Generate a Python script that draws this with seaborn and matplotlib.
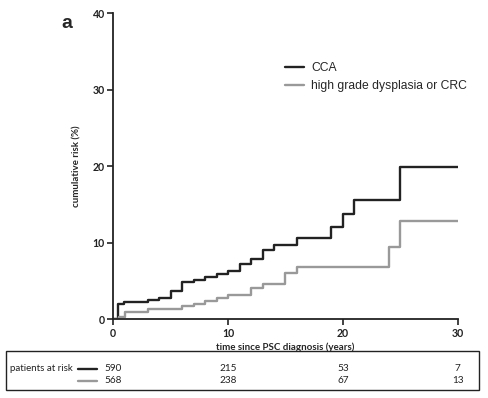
import matplotlib
matplotlib.use("Agg")
import matplotlib.pyplot as plt
import matplotlib.transforms as mtransforms
from matplotlib.patches import Rectangle
from matplotlib.lines import Line2D
import pandas as pd
import seaborn as sns

# cumulative risk curves (step functions)
cca_time = [0, 0.44, 0.9, 3.0, 4.0, 5.0, 6.0, 7.0, 8.0, 9.0, 10.0, 11.0, 12.0,
            13.0, 14.0, 16.0, 19.0, 20.0, 21.0, 25.0, 30.0]
cca_risk = [0, 2.0, 2.3, 2.5, 2.75, 3.7, 4.8, 5.1, 5.5, 5.9, 6.35, 7.25, 7.9,
            9.0, 9.65, 10.6, 12.1, 13.8, 15.6, 19.9, 19.9]

crc_time = [0, 0.5, 1.0, 3.0, 6.0, 7.0, 8.0, 9.0, 10.0, 12.0, 13.0, 15.0,
            16.0, 24.0, 25.0, 30.0]
crc_risk = [0, 0.35, 0.95, 1.35, 1.7, 2.05, 2.4, 2.75, 3.1, 4.1, 4.6, 6.0,
            6.85, 9.4, 12.8, 12.8]

group_names = ["CCA", "high grade dysplasia or CRC"]
group_colors = ["#222222", "#999999"]

risk_times = [0, 10, 20, 30]
at_risk_cca = [590, 215, 53, 7]
at_risk_crc = [568, 238, 67, 13]

df = pd.concat([
    pd.DataFrame({"time": cca_time, "risk": cca_risk, "group": group_names[0]}),
    pd.DataFrame({"time": crc_time, "risk": crc_risk, "group": group_names[1]}),
])

sns.set_style("ticks")
fig = plt.figure(figsize=(4.88, 3.98), dpi=100)
ax = fig.add_axes([0.232, 0.198, 0.706, 0.769])

sns.lineplot(data=df, x="time", y="risk", hue="group", hue_order=group_names,
             palette=group_colors, estimator=None, sort=False,
             drawstyle="steps-post", linewidth=1.7, ax=ax, legend=False)

ax.set_xlim(0, 30)
ax.set_ylim(0, 40)
ax.set_xticks([0, 10, 20, 30])
ax.set_yticks([0, 10, 20, 30, 40])
sns.despine(ax=ax)
for s in ["left", "bottom"]:
    ax.spines[s].set_linewidth(1.3)
    ax.spines[s].set_color("#222222")
ax.tick_params(length=4, width=1.2, colors="#222222", pad=2)
for lab in ax.get_xticklabels() + ax.get_yticklabels():
    lab.set_fontfamily("Lato")
    lab.set_fontweight("bold")
    lab.set_fontsize(7.6)

ax.set_xlabel("time since PSC diagnosis (years)", fontfamily="Lato",
              fontweight="bold", fontsize=7, labelpad=3)
ax.set_ylabel("cumulative risk (%)", fontfamily="Lato", fontweight="bold",
              fontsize=7, labelpad=8)

handles = [Line2D([], [], color=c, lw=1.7) for c in group_colors]
ax.legend(handles, group_names, loc="upper left", bbox_to_anchor=(0.48, 0.86),
          frameon=False, borderpad=0, handlelength=1.6, handletextpad=0.6,
          labelspacing=0.5, prop={"family": "Liberation Sans", "size": 8.7})

fig.text(0.125, 0.94, "a", fontfamily="Liberation Sans", fontweight="bold",
         fontsize=14, va="center", ha="left")

# patients-at-risk box under the plot
fig.patches.append(Rectangle((0.0123, 0.020), 0.969, 0.099, transform=fig.transFigure,
                             fill=False, edgecolor="#222222", linewidth=1.0))
row_y = [0.073, 0.043]
fig.text(0.021, row_y[0], "patients at risk", fontfamily="Lato", fontsize=7,
         va="center", ha="left", color="#222222")
blend = mtransforms.blended_transform_factory(ax.transData, fig.transFigure)
for y, counts, c in zip(row_y, [at_risk_cca, at_risk_crc], group_colors):
    fig.lines.append(Line2D([0.160, 0.199], [y, y], transform=fig.transFigure,
                            color=c, linewidth=1.7))
    for t, n in zip(risk_times, counts):
        fig.text(t, y, str(n), transform=blend, fontfamily="Lato", fontsize=7.2,
                 va="center", ha="center", color="#222222")

fig.savefig("out.png", dpi=100)
